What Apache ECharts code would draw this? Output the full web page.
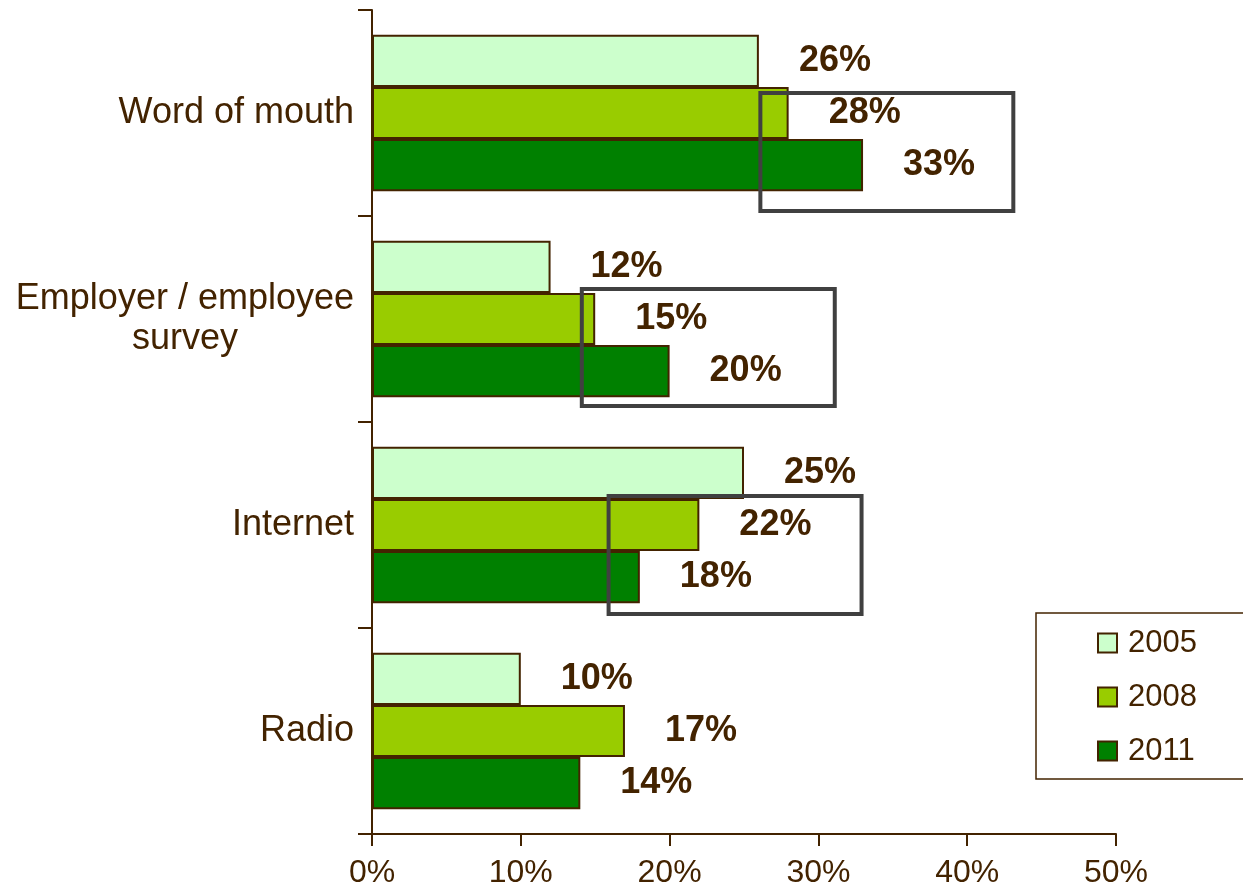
<!DOCTYPE html>
<html>
<head>
<meta charset="utf-8">
<script src="https://cdn.jsdelivr.net/npm/echarts@6/dist/echarts.min.js"></script>
<style>
  html, body { margin: 0; padding: 0; background: #fff; }
  #chart { width: 1243px; height: 888px; }
</style>
</head>
<body>
<div id="chart"></div>
<script>
// Recruitment channels, share of respondents (%)
const categories = ['Word of mouth', 'Employer / employee\nsurvey', 'Internet', 'Radio'];
const years = ['2005', '2008', '2011'];
const values2005 = [26, 12, 25, 10];
const values2008 = [28, 15, 22, 17];
const values2011 = [33, 20, 18, 14];
const xTicks = [0, 10, 20, 30, 40, 50];

// Highlight frames: category, x range (%), vertical span as fraction of the band around its centre
const highlightCategory = ['Word of mouth', 'Employer / employee\nsurvey', 'Internet'];
const highlightFrom = [26.1, 14.1, 15.9];
const highlightTo = [43.1, 31.1, 32.9];
const highlightTop = [-0.097, -0.146, -0.141];
const highlightBottom = [0.476, 0.422, 0.432];

const ink = '#432300';
const fills = ['#ccffcc', '#99cc00', '#008000'];
const seriesValues = [values2005, values2008, values2011];
const font = 'Liberation Sans, Arial, sans-serif';

const chart = echarts.init(document.getElementById('chart'));

const series = years.map((y, i) => ({
  name: y,
  type: 'bar',
  data: seriesValues[i],
  barGap: '0%',
  barCategoryGap: '24%',
  itemStyle: { color: fills[i], borderColor: ink, borderWidth: 2 },
  label: {
    show: true,
    position: 'right',
    distance: 40,
    formatter: '{c}%',
    color: ink,
    fontFamily: font,
    fontWeight: 'bold',
    fontSize: 36
  },
  z: 2
}));

chart.setOption({
  animation: false,
  backgroundColor: '#ffffff',
  grid: { left: 372, right: 127, top: 10, bottom: 54, outerBoundsMode: 'none', containLabel: false },
  xAxis: {
    type: 'value',
    min: xTicks[0],
    max: xTicks[xTicks.length - 1],
    interval: xTicks[1] - xTicks[0],
    axisLine: { show: true, lineStyle: { color: ink, width: 2 } },
    axisTick: { show: true, length: 12, lineStyle: { color: ink, width: 2 } },
    splitLine: { show: false },
    axisLabel: {
      formatter: '{value}%',
      color: ink,
      fontFamily: font,
      fontSize: 32,
      margin: 23
    }
  },
  yAxis: {
    type: 'category',
    data: categories,
    inverse: true,
    axisLine: { show: true, lineStyle: { color: ink, width: 2 } },
    axisTick: { show: true, length: 14, lineStyle: { color: ink, width: 2 } },
    axisLabel: {
      color: ink,
      fontFamily: font,
      fontSize: 36,
      margin: 18,
      lineHeight: 40,
      formatter: v => v.split('\n').map(s => '{c|' + s + '}').join('\n'),
      rich: { c: { align: 'center', fontSize: 36, lineHeight: 40, color: ink, fontFamily: font } }
    }
  },
  legend: {
    orient: 'vertical',
    left: 1036,
    top: 613,
    data: years,
    itemWidth: 19,
    itemHeight: 19,
    itemGap: 22,
    padding: [14, 120, 12, 61],
    borderColor: ink,
    borderWidth: 1.5,
    icon: 'rect',
    textStyle: {
      color: ink,
      fontFamily: font,
      fontSize: 31,
      lineHeight: 32,
      padding: [0, 0, 0, 6]
    }
  },
  series: series
});

// Frames drawn over the bars, positioned through the chart's own scales
function drawFrames() {
  const c0 = chart.convertToPixel({ gridIndex: 0 }, [0, 0])[1];
  const c1 = chart.convertToPixel({ gridIndex: 0 }, [0, 1])[1];
  const band = c1 - c0;
  const elements = highlightCategory.map((cat, i) => {
    const idx = categories.indexOf(cat);
    const x0 = chart.convertToPixel({ gridIndex: 0 }, [highlightFrom[i], idx])[0];
    const x1 = chart.convertToPixel({ gridIndex: 0 }, [highlightTo[i], idx])[0];
    const cy = chart.convertToPixel({ gridIndex: 0 }, [0, idx])[1];
    const y0 = cy + highlightTop[i] * band;
    const y1 = cy + highlightBottom[i] * band;
    return {
      type: 'rect',
      shape: { x: x0, y: y0, width: x1 - x0, height: y1 - y0 },
      style: { fill: null, stroke: '#404040', lineWidth: 4 },
      z: 100
    };
  });
  chart.setOption({ graphic: elements });
}
drawFrames();
</script>
</body>
</html>
